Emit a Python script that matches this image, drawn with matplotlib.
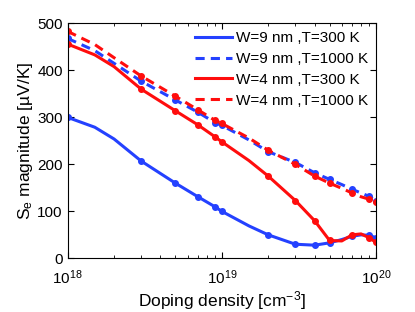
import numpy as np
import matplotlib
matplotlib.use('Agg')
import matplotlib.pyplot as plt

plt.rcParams['font.family'] = ['Liberation Sans', 'DejaVu Sans']
plt.rcParams['mathtext.default'] = 'regular'

# doping density [cm^-3]
doping = [1e18, 1.5e18, 2e18, 3e18, 5e18, 7e18, 9e18, 1e19, 1.5e19, 2e19, 3e19, 4e19,
          5e19, 6e19, 7e19, 8e19, 9e19, 1e20]
# which samples carry a marker
marked = [True, False, False, True, True, True, True, True, False, True, True, True,
          True, False, True, False, True, True]

# Seebeck magnitude [uV/K]
w9_t300 = [300, 279, 254, 207, 160, 131, 110, 100, 69, 50, 30, 28, 33, 40, 47, 50, 49, 44]
w9_t1000 = [468, 442, 415, 377, 337, 311, 289, 283, 252, 227, 204, 182, 168, 157, 147, 139, 132, 123]
w4_t300 = [456, 433, 408, 360, 314, 284, 259, 248, 208, 175, 123, 80, 38, 37, 50, 52, 44, 34]
w4_t1000 = [483, 455, 427, 388, 345, 316, 294, 287, 256, 230, 200, 175, 160, 149, 139, 131, 126, 119]

labels = ['W=9 nm ,T=300 K', 'W=9 nm ,T=1000 K', 'W=4 nm ,T=300 K', 'W=4 nm ,T=1000 K']

blue = '#2441ff'
red = '#ff0d0d'

fig = plt.figure(figsize=(4.15, 3.12), dpi=100)
ax = fig.add_axes([0.163, 0.172, 0.743, 0.753])

series = [(w9_t300, blue, '-'), (w9_t1000, blue, '--'),
          (w4_t300, red, '-'), (w4_t1000, red, '--')]
for (vals, c, ls), lab in zip(series, labels):
    line, = ax.plot(doping, vals, color=c, lw=2.2, marker='o', ms=4,
                    markevery=marked, label=lab)
    if ls == '--':
        line.set_dashes([3, 2])

ax.set_xscale('log')
ax.set_xlim(1e18, 1e20)
ax.set_ylim(0, 500)
ax.set_yticks([0, 100, 200, 300, 400, 500])
ax.tick_params(which='both', direction='in', top=True, right=True, labelsize=11)
ax.tick_params(which='major', length=4)
ax.tick_params(which='minor', length=2)
ax.tick_params(axis='x', pad=7)

ax.set_xlabel('Doping density [cm$^{-3}$]', fontsize=12.5, labelpad=2)
ax.set_ylabel('S$_e$ magnitude [µV/K]', fontsize=12.5, labelpad=2)

ax.legend(loc='upper right', frameon=False, fontsize=11, handlelength=2.4,
          handletextpad=0.3, labelspacing=0.45, borderaxespad=0.1,
          markerscale=0)

fig.savefig('out.png', dpi=100)
